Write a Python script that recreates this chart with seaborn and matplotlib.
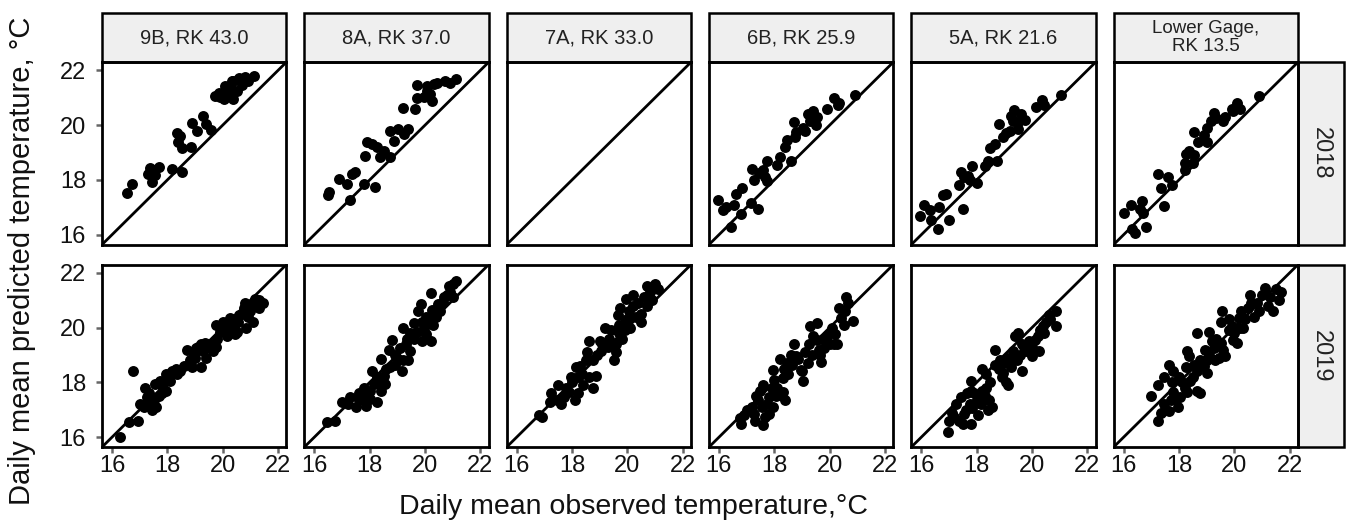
import pandas as pd
import matplotlib
matplotlib.use('Agg')
import matplotlib.pyplot as plt
from matplotlib.patches import Rectangle
import seaborn as sns

sites = ['9B, RK 43.0', '8A, RK 37.0', '7A, RK 33.0', '6B, RK 25.9', '5A, RK 21.6', 'Lower Gage,\nRK 13.5']
years = [2018, 2019]
ticks = [16, 18, 20, 22]

# 2018 (7A has no data that year)
obs_9b_2018 = [16.53, 16.71, 17.37, 17.31, 17.49, 17.71, 17.43, 17.55, 18.15, 18.52, 18.34, 18.45, 18.40,
               18.52, 18.84, 18.88, 19.08, 19.30, 19.39, 19.56, 19.72, 19.87, 20.04, 20.08, 20.20, 20.29,
               20.38, 20.50, 20.60, 20.68, 20.80, 20.92, 21.13, 20.32, 20.14, 19.90, 20.38]
pred_9b_2018 = [17.53, 17.87, 18.44, 18.23, 18.35, 18.47, 17.92, 18.17, 18.41, 18.29, 19.73, 19.61, 19.37,
                19.17, 19.19, 20.09, 19.79, 20.33, 20.03, 19.82, 21.05, 21.17, 20.94, 21.42, 21.12, 21.35,
                21.62, 21.23, 21.71, 21.48, 21.74, 21.60, 21.81, 21.60, 21.17, 21.02, 20.94]

obs_8a_2018 = [16.52, 16.48, 16.88, 17.18, 17.36, 17.48, 17.30, 17.78, 18.20, 17.90, 18.08, 17.84, 18.26,
               18.38, 18.50, 18.72, 18.74, 19.04, 18.89, 19.25, 19.37, 19.22, 19.65, 19.71, 19.71, 20.07,
               20.31, 20.19, 19.95, 20.43, 20.73, 20.25, 20.07, 21.10, 20.90]
pred_8a_2018 = [17.56, 17.44, 18.05, 17.87, 18.23, 18.29, 17.26, 17.87, 17.74, 19.37, 19.31, 18.89, 19.19,
                18.83, 19.07, 18.83, 19.79, 19.85, 19.43, 19.69, 19.85, 20.63, 20.57, 20.99, 21.48, 21.42,
                21.50, 21.12, 21.02, 21.54, 21.60, 20.87, 21.23, 21.70, 21.55]

obs_6b_2018 = [15.95, 16.13, 16.25, 16.55, 16.60, 16.85, 16.45, 16.80, 17.40, 17.15, 17.20, 17.25, 17.45,
               17.60, 17.65, 17.75, 17.75, 18.10, 18.20, 18.60, 18.40, 18.45, 18.75, 18.80, 18.70, 19.05,
               19.20, 19.30, 19.40, 19.55, 19.50, 19.10, 19.90, 20.15, 20.30, 20.35, 20.90]
pred_6b_2018 = [17.27, 16.90, 17.00, 17.10, 17.50, 17.70, 16.30, 16.75, 16.95, 17.15, 18.40, 18.00, 18.25,
                18.35, 18.10, 18.70, 17.95, 18.55, 18.85, 18.70, 19.20, 19.45, 19.55, 19.75, 20.10, 19.90,
                20.40, 20.15, 20.50, 20.30, 20.00, 19.80, 20.60, 21.00, 20.75, 20.80, 21.10]

obs_5a_2018 = [15.95, 16.10, 16.30, 16.35, 16.65, 17.00, 16.60, 17.50, 16.80, 16.90, 17.35, 17.45, 17.55,
               17.75, 17.85, 18.00, 17.70, 18.30, 18.40, 18.75, 18.50, 18.65, 18.80, 18.95, 19.05, 19.25,
               19.35, 19.50, 19.30, 19.60, 19.75, 19.50, 19.20, 20.15, 20.35, 20.45, 21.05]
pred_5a_2018 = [16.70, 17.10, 16.90, 16.55, 17.00, 16.55, 16.20, 16.95, 17.45, 17.50, 17.80, 18.30, 18.10,
                18.00, 18.50, 17.90, 18.15, 18.50, 18.70, 18.70, 19.15, 19.30, 20.05, 19.55, 19.70, 20.35,
                20.55, 20.10, 20.15, 20.40, 20.20, 19.85, 19.80, 20.65, 20.90, 20.75, 21.10]

obs_lg_2018 = [16.00, 16.25, 16.40, 16.30, 16.80, 16.65, 16.60, 16.70, 17.45, 17.25, 17.35, 17.60, 17.75,
               18.20, 18.25, 18.35, 18.55, 18.50, 18.20, 18.55, 18.70, 18.90, 19.00, 19.15, 19.25, 19.00,
               19.35, 19.60, 19.65, 19.90, 20.10, 20.20, 19.95, 20.90]
pred_lg_2018 = [16.80, 17.10, 16.05, 16.20, 16.30, 17.25, 16.95, 16.80, 17.05, 18.20, 17.70, 18.10, 17.80,
                18.60, 18.95, 19.05, 18.90, 18.60, 18.35, 19.75, 19.40, 19.65, 19.90, 20.15, 20.45, 19.40,
                20.25, 20.15, 20.30, 20.60, 20.80, 20.60, 20.50, 21.05]

# 2019
obs_9b_2019 = [16.30, 16.60, 16.95, 16.75, 17.00, 17.15, 17.25, 17.35, 17.50, 17.20, 17.55, 17.60, 17.45,
               17.75, 17.85, 17.95, 18.15, 18.10, 17.80, 17.95, 18.35, 18.45, 18.70, 18.80, 18.95, 19.05,
               19.20, 19.30, 19.40, 19.55, 19.65, 19.75, 18.90, 19.20, 19.35, 19.75, 19.90, 20.10, 20.20,
               20.25, 20.40, 20.45, 20.55, 20.60, 20.75, 20.85, 20.90, 21.05, 21.10, 21.15, 21.30, 21.45,
               20.15, 20.50, 17.30, 17.70, 18.00, 18.30, 18.60, 19.00, 19.10, 19.50, 19.80, 20.00, 20.30,
               20.70, 21.00, 21.20, 21.30, 20.80]
pred_9b_2019 = [16.00, 16.55, 16.60, 18.40, 17.20, 17.10, 17.45, 17.60, 17.35, 17.80, 17.95, 17.10, 17.00,
                18.05, 17.80, 18.30, 18.40, 18.05, 17.60, 17.70, 18.30, 18.40, 19.20, 18.80, 19.00, 19.25,
                19.40, 19.15, 18.90, 19.25, 19.15, 19.30, 18.55, 18.55, 19.45, 20.10, 19.85, 20.15, 20.00,
                20.35, 20.05, 19.75, 20.20, 20.45, 20.70, 20.00, 20.40, 20.85, 20.20, 21.05, 20.70, 20.90,
                19.70, 19.85, 17.30, 17.50, 18.10, 18.50, 18.60, 18.90, 19.30, 19.40, 19.60, 20.20, 20.30,
                20.50, 20.60, 20.90, 21.00, 20.90]

obs_8a_2019 = [16.45, 16.75, 17.00, 17.30, 17.50, 17.60, 17.85, 17.90, 18.25, 18.00, 18.15, 17.80, 18.25,
               18.40, 18.55, 18.50, 18.40, 18.70, 18.80, 19.00, 19.10, 19.20, 19.40, 19.35, 19.45, 18.75,
               19.15, 18.90, 19.20, 19.45, 19.60, 19.70, 19.90, 19.95, 20.05, 20.20, 20.30, 19.75, 20.25,
               20.45, 20.55, 20.65, 20.80, 20.85, 20.20, 19.85, 20.05, 21.00, 21.10, 20.90, 21.00, 17.60,
               18.10, 18.30, 18.60, 18.90, 19.30, 19.60, 19.90, 20.10, 20.40, 20.60, 20.70, 17.20, 18.00]
pred_8a_2019 = [16.55, 16.60, 17.30, 17.45, 17.10, 17.35, 17.15, 17.45, 17.30, 17.70, 17.95, 17.80, 18.20,
                17.70, 17.95, 18.25, 18.85, 19.20, 19.55, 18.90, 19.25, 18.80, 18.80, 19.60, 19.15, 18.55,
                18.40, 18.65, 20.00, 19.80, 20.15, 19.85, 20.20, 20.00, 20.40, 19.50, 20.10, 20.60, 20.65,
                20.85, 20.60, 20.95, 21.20, 21.50, 21.25, 20.85, 19.75, 21.60, 21.70, 21.30, 21.10, 17.60,
                18.40, 18.00, 18.50, 19.00, 19.40, 19.60, 19.50, 20.30, 20.40, 20.90, 21.10, 17.20, 17.40]

obs_7a_2019 = [16.80, 16.90, 17.25, 17.45, 17.70, 17.80, 17.90, 18.10, 18.20, 17.95, 18.15, 18.35, 18.50,
               18.60, 18.75, 18.85, 18.60, 18.55, 19.00, 19.05, 19.20, 19.35, 19.50, 19.60, 19.70, 19.70,
               19.80, 18.75, 19.65, 19.75, 19.90, 19.95, 20.05, 20.10, 20.20, 20.30, 20.40, 20.50, 20.60,
               20.70, 20.80, 20.90, 21.00, 21.10, 20.50, 20.20, 20.70, 17.50, 17.60, 18.00, 18.30, 18.40,
               18.90, 19.10, 19.30, 19.40, 19.60, 19.90, 20.00, 17.20, 18.20]
pred_7a_2019 = [16.80, 16.75, 17.60, 17.35, 17.45, 17.80, 17.65, 17.35, 17.60, 18.20, 18.55, 18.30, 18.80,
                18.20, 17.80, 18.25, 19.50, 19.10, 19.50, 19.15, 20.00, 19.60, 18.80, 19.40, 19.80, 20.10,
                19.60, 18.80, 20.45, 20.70, 20.20, 21.05, 20.60, 20.00, 20.80, 20.40, 20.90, 20.50, 21.10,
                20.80, 21.30, 21.00, 21.60, 21.40, 20.20, 21.20, 21.50, 17.90, 17.20, 18.00, 18.60, 17.90,
                19.00, 19.40, 19.30, 19.90, 19.10, 19.90, 20.30, 17.30, 18.20]

obs_6b_2019 = [16.80, 16.75, 16.90, 17.25, 17.20, 17.35, 17.40, 17.60, 17.65, 17.75, 17.80, 17.60, 17.95,
               18.05, 18.20, 18.40, 18.30, 17.55, 17.80, 17.95, 18.20, 18.00, 18.30, 18.35, 18.45, 18.65,
               18.80, 18.70, 18.95, 19.00, 19.05, 18.85, 19.25, 19.35, 19.55, 19.60, 19.70, 19.65, 19.75,
               19.80, 19.30, 19.55, 20.00, 20.20, 20.15, 20.25, 20.40, 20.50, 20.35, 20.55, 20.65, 20.85,
               20.60, 17.00, 17.30, 17.50, 17.90, 18.10, 18.50, 18.60, 19.10, 19.20, 19.40, 19.90, 20.10]
pred_6b_2019 = [16.50, 16.70, 16.80, 16.85, 17.10, 17.50, 17.35, 17.90, 16.75, 17.20, 17.45, 16.45, 17.10,
                17.50, 17.55, 17.35, 17.65, 17.10, 16.85, 18.45, 18.85, 18.10, 18.15, 18.50, 18.70, 18.65,
                18.95, 19.40, 18.45, 18.40, 18.05, 18.85, 19.40, 19.00, 19.55, 19.20, 18.75, 19.00, 19.60,
                19.25, 20.05, 20.15, 19.40, 19.75, 19.40, 19.40, 20.35, 20.10, 20.70, 20.60, 20.90, 20.25,
                21.10, 17.00, 16.60, 17.70, 17.80, 17.80, 18.30, 19.00, 19.10, 18.70, 19.70, 19.70, 20.00]

obs_5a_2019 = [16.95, 17.00, 17.20, 17.25, 17.45, 17.50, 17.55, 17.80, 17.35, 17.75, 17.85, 17.65, 18.00,
               17.80, 18.10, 18.20, 18.35, 18.15, 18.45, 18.55, 18.40, 18.05, 17.80, 18.20, 18.35, 18.65,
               18.65, 18.85, 18.95, 19.15, 19.10, 18.90, 19.30, 19.45, 19.55, 19.65, 19.25, 19.05, 19.40,
               19.50, 19.65, 19.80, 19.90, 20.10, 20.20, 20.25, 20.00, 20.40, 20.45, 20.60, 20.85, 20.65,
               20.85, 17.10, 17.60, 17.90, 18.30, 18.50, 18.80, 19.00, 19.30, 19.70, 20.00, 20.30, 20.50]
pred_5a_2019 = [16.20, 16.60, 16.75, 17.20, 17.45, 16.50, 16.85, 16.50, 16.60, 17.20, 17.05, 17.60, 17.35,
                17.70, 17.45, 17.70, 17.80, 17.20, 17.35, 17.10, 17.00, 16.80, 18.05, 18.50, 18.30, 19.20,
                18.65, 18.80, 18.35, 17.90, 18.90, 18.20, 19.15, 18.80, 19.00, 18.40, 18.55, 18.00, 19.70,
                19.80, 19.40, 19.15, 19.50, 19.55, 19.70, 19.15, 18.95, 20.05, 19.80, 20.45, 20.05, 20.30,
                20.60, 16.90, 17.00, 17.60, 17.50, 18.00, 18.50, 18.70, 18.90, 19.30, 19.30, 19.90, 20.20]

obs_lg_2019 = [17.25, 17.35, 17.65, 17.45, 17.70, 17.95, 18.05, 17.80, 17.00, 17.25, 17.45, 17.65, 17.80,
               17.75, 18.20, 18.40, 18.30, 18.65, 18.75, 18.00, 18.30, 18.35, 18.25, 18.55, 18.65, 18.75,
               18.95, 19.00, 19.10, 19.25, 19.30, 19.45, 19.50, 18.65, 19.10, 19.35, 19.65, 19.00, 19.55,
               19.50, 19.80, 19.90, 20.00, 20.15, 19.95, 20.20, 20.40, 20.25, 20.50, 20.60, 20.55, 20.10,
               20.80, 21.00, 21.20, 21.30, 21.50, 21.60, 21.70, 21.40, 21.10, 17.50, 17.90, 18.10, 18.50,
               18.90, 19.20, 19.60, 19.80, 20.30, 20.70, 20.90]
pred_lg_2019 = [16.60, 16.90, 16.95, 17.20, 17.35, 17.10, 17.45, 17.65, 17.50, 17.90, 18.20, 18.65, 18.40,
                18.00, 17.80, 18.05, 17.65, 17.70, 17.60, 18.20, 19.15, 18.95, 18.55, 18.65, 18.40, 18.80,
                19.20, 18.80, 19.00, 19.25, 18.80, 18.90, 19.45, 19.80, 19.85, 19.60, 18.95, 18.35, 20.60,
                20.20, 19.90, 20.05, 19.80, 20.35, 19.55, 20.00, 20.30, 20.60, 20.70, 20.90, 21.20, 19.45,
                20.90, 21.20, 20.80, 21.10, 21.40, 21.00, 21.30, 20.60, 21.45, 17.00, 17.40, 18.00, 18.20,
                18.60, 19.50, 19.20, 20.30, 20.00, 20.40, 20.60]

panels = [
    (sites[0], 2018, obs_9b_2018, pred_9b_2018),
    (sites[1], 2018, obs_8a_2018, pred_8a_2018),
    (sites[3], 2018, obs_6b_2018, pred_6b_2018),
    (sites[4], 2018, obs_5a_2018, pred_5a_2018),
    (sites[5], 2018, obs_lg_2018, pred_lg_2018),
    (sites[0], 2019, obs_9b_2019, pred_9b_2019),
    (sites[1], 2019, obs_8a_2019, pred_8a_2019),
    (sites[2], 2019, obs_7a_2019, pred_7a_2019),
    (sites[3], 2019, obs_6b_2019, pred_6b_2019),
    (sites[4], 2019, obs_5a_2019, pred_5a_2019),
    (sites[5], 2019, obs_lg_2019, pred_lg_2019),
]
df = pd.concat([pd.DataFrame({'site': s, 'year': yr, 'observed': o, 'predicted': p})
                for s, yr, o, p in panels], ignore_index=True)

sns.set_style('ticks')
plt.rcParams['font.family'] = ['Liberation Sans', 'DejaVu Sans']

g = sns.FacetGrid(df, row='year', col='site', row_order=years, col_order=sites,
                  height=2, aspect=1, despine=False, sharex=True, sharey=True)
g.map_dataframe(sns.scatterplot, x='observed', y='predicted', color='black', s=62, linewidth=0)

fig = g.figure
fig.set_size_inches(13.51, 5.26)
fig.subplots_adjust(left=0.0755, right=0.9608, top=0.882, bottom=0.150, wspace=0.097, hspace=0.109)

lims = (15.64, 22.3)
strip_h = 0.268
strip_w = 0.25
for i, yr in enumerate(years):
    for j, site in enumerate(sites):
        ax = g.axes[i, j]
        ax.axline((16, 16), (22, 22), color='black', lw=2.0, zorder=1)
        ax.set_xlim(lims)
        ax.set_ylim(lims)
        ax.set_xticks(ticks)
        ax.set_yticks(ticks)
        ax.set_title('')
        ax.set_xlabel('')
        ax.set_ylabel('')
        for sp in ax.spines.values():
            sp.set_color('black')
            sp.set_linewidth(2.0)
        ax.tick_params(axis='both', labelsize=17, color='#666666', width=1.8, length=4.5, labelcolor='#111111')
        ax.tick_params(axis='y', pad=7)
        ax.tick_params(axis='x', pad=1.5)
        if j > 0:
            ax.tick_params(axis='y', left=False)
        if i == 0:
            ax.tick_params(axis='x', bottom=False)
            ax.add_patch(Rectangle((0, 1), 1, strip_h, transform=ax.transAxes, clip_on=False,
                                   facecolor='#efefef', edgecolor='black', lw=1.8))
            fs = 13.5 if '\n' in site else 14.5
            ax.text(0.5, 1 + strip_h / 2, site, transform=ax.transAxes, ha='center', va='center',
                    fontsize=fs, color='#222222', linespacing=1.1)
        if j == len(sites) - 1:
            ax.add_patch(Rectangle((1, 0), strip_w, 1, transform=ax.transAxes, clip_on=False,
                                   facecolor='#efefef', edgecolor='black', lw=1.8))
            ax.text(1 + strip_w / 2, 0.5, str(yr), transform=ax.transAxes, ha='center', va='center',
                    rotation=-90, fontsize=17, color='#222222')

fig.text(0.469, 0.036, 'Daily mean observed temperature,°C', ha='center', va='center', fontsize=20.5, color='#111111')
fig.text(0.016, 0.505, 'Daily mean predicted temperature, °C', ha='center', va='center', rotation=90,
         fontsize=21, color='#111111')

fig.savefig('out.png', dpi=100)
